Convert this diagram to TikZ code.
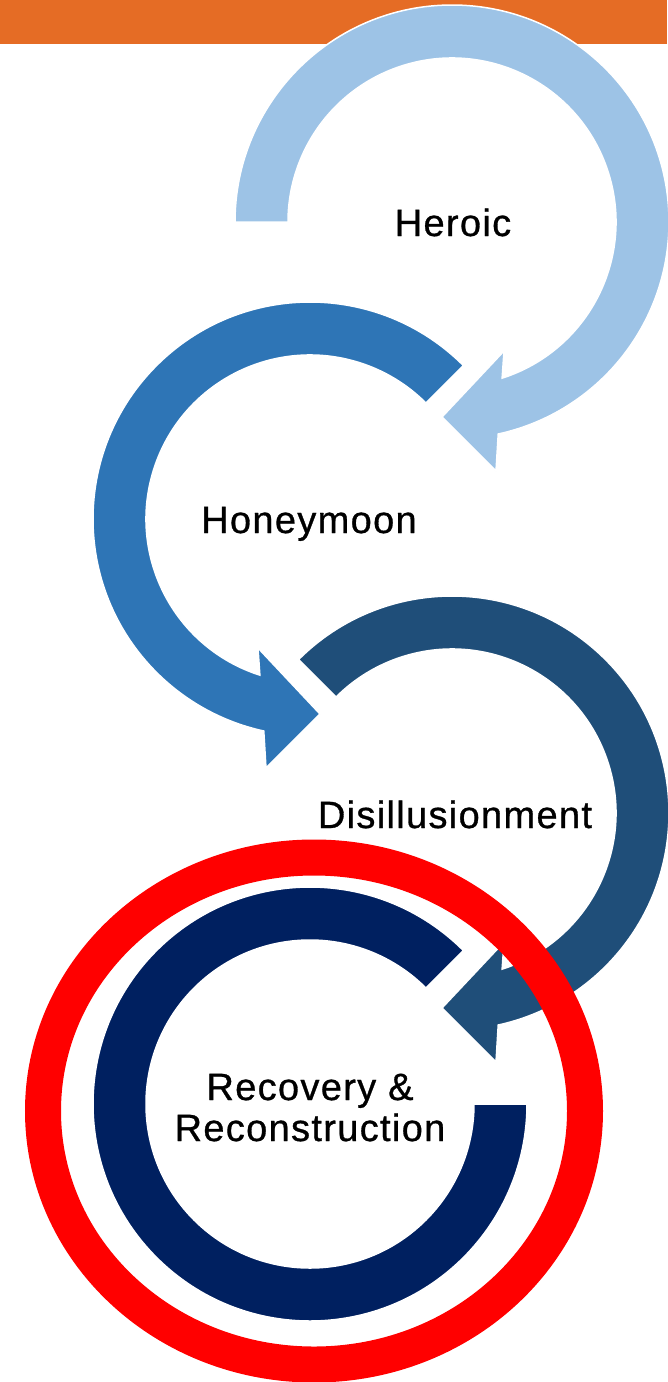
\documentclass[tikz,border=0pt]{standalone}
\usepackage{fontspec}
\setmainfont{Liberation Sans}
\newfontfamily\lblfont[LetterSpace=3.5,FakeBold=0.8]{Liberation Sans}
\definecolor{barorange}{HTML}{E56C25}
\definecolor{lightblue}{HTML}{9DC3E6}
\definecolor{midblue}{HTML}{2E75B6}
\definecolor{darkblue}{HTML}{1F4E79}
\definecolor{navyblue}{HTML}{002060}
\definecolor{ringred}{HTML}{FF0000}
\tikzset{
  arrowshape/.style={draw=white, line width=1.5pt},
  lbl/.style={font=\lblfont\fontsize{38}{41}\selectfont, text=black, inner sep=0pt, align=center},
}
\newcommand{\circarrow}[2]{%
  \path[arrowshape, fill=#1] (#2:217) arc[start angle=#2, end angle=-77.7, radius=217]
    -- (44,-249) -- (-10,-195) -- (52,-129)
    -- (-72.2:164) arc[start angle=-72.2, end angle=#2, radius=164] -- cycle;}
\begin{document}
\begin{tikzpicture}[x=1pt,y=1pt]
\useasboundingbox (0,0) rectangle (667,-1382);
\fill[barorange] (0,0) rectangle (667,-44) coordinate (barcorner);
% Heroic
\begin{scope}[shift={(452,-222)}]
  \circarrow{lightblue}{180}
\end{scope}
% Honeymoon
\begin{scope}[shift={(310,-519)}, xscale=-1]
  \circarrow{midblue}{135}
\end{scope}
% Disillusionment
\begin{scope}[shift={(452,-813)}]
  \circarrow{darkblue}{135}
\end{scope}
% Recovery ring
\begin{scope}[shift={(310,-1104)}]
  \path[arrowshape, fill=navyblue] (45:217) arc[start angle=45, end angle=360, radius=217]
    -- (0:164) arc[start angle=360, end angle=45, radius=164] -- cycle;
\end{scope}
% red ellipse highlight
\draw[ringred, line width=36pt] (314,-1111) ellipse[x radius=271, y radius=253.5];
% labels
\node[lbl, anchor=base] (heroic) at (453,-236) {Heroic};
\node[lbl, anchor=base] (honeymoon) at (309,-533) {Honeymoon};
\node[lbl, anchor=base] (disill) at (455,-828) {Disillusionment};
\node[lbl, anchor=base] (recovery) at (310,-1141) {Recovery \&\\Reconstruction};
\end{tikzpicture}
\end{document}
